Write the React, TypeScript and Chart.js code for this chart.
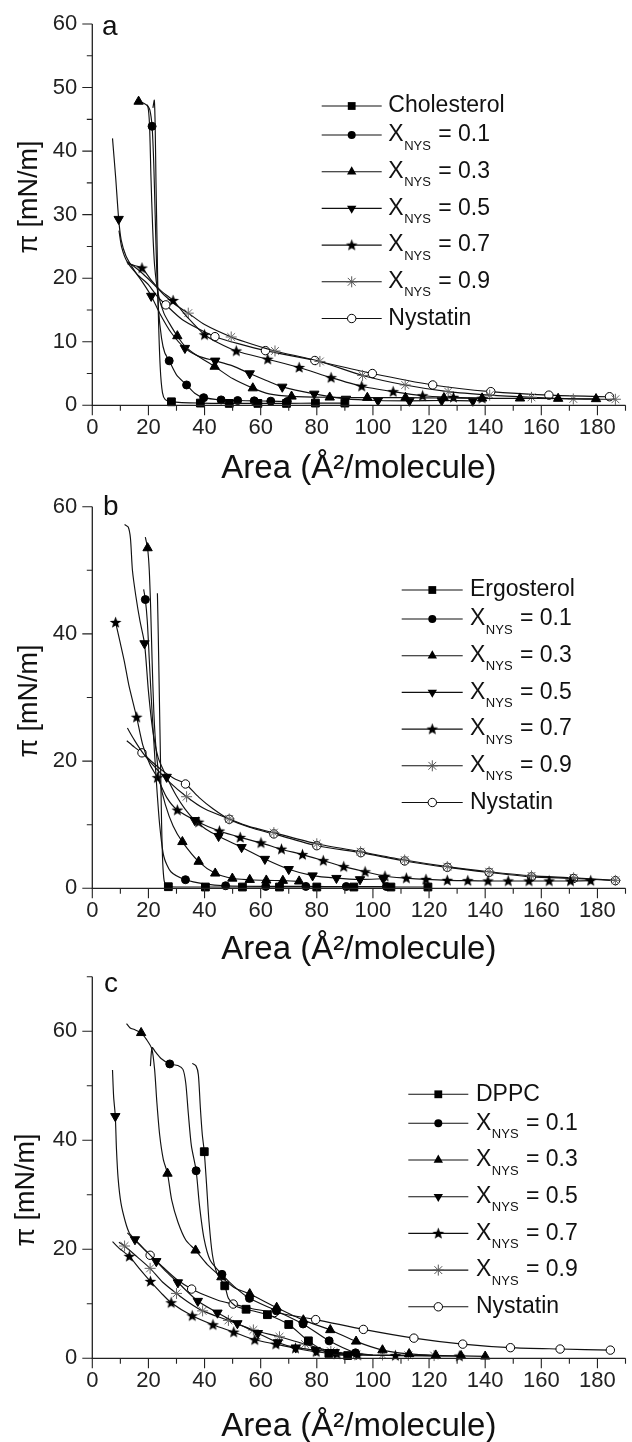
import React, { useEffect, useRef } from 'react';
import { Chart, registerables } from 'chart.js';
Chart.register(...registerables);

type Pt = [number, number, number]; // [area, pressure, 1 = symbol drawn]

// ---------- Panel a : Cholesterol / Nystatin ----------
const aCholesterol: Pt[] = [[21.6,46.8,0],[22.1,48,0],[22.4,44,0],[22.7,35,0],[23.1,25,0],[23.5,15,0],[24.2,6,0],[25,2,0],[26,0.9,0],[28.2,0.55,1],[38.5,0.35,1],[48.8,0.3,1],[59,0.3,1],[69.2,0.3,1],[79.5,0.35,1],[90,0.35,1]];
const aX01: Pt[] = [[19.5,47.3,0],[20.5,46.5,0],[21.3,43.9,1],[21.9,38,0],[22.4,30,0],[22.9,22,0],[23.6,15,0],[24.7,10.5,0],[25.8,8.3,0],[27.4,7.0,1],[30,4.8,0],[33.6,3.2,1],[36.5,1.9,0],[39.7,1.2,1],[45.9,0.85,1],[51.8,0.75,1],[57.7,0.7,1],[63.6,0.65,1],[69.5,0.6,1]];
const aX03: Pt[] = [[16.5,47.8,1],[18.5,47.5,0],[19.8,47.0,0],[20.4,44,0],[20.9,36,0],[21.5,28,0],[22.2,22,0],[23.5,17.5,0],[25.5,14.5,0],[28,12.5,0],[30.3,10.9,1],[33,9.3,0],[37,7.9,0],[43.6,6.1,1],[50,4.2,0],[57.2,2.7,1],[63,1.8,0],[71,1.4,1],[84.6,1.25,1],[98,1.2,1],[111.6,1.2,1],[125.3,1.15,1],[138.9,1.1,1],[152.4,1.1,1],[166,1.05,1],[179.5,1.0,1]];
const aX05: Pt[] = [[7.2,42,0],[8.3,36,0],[9.4,29.3,1],[10.3,26,0],[12,23.5,0],[15,21.2,0],[18,19.3,0],[21,17.2,1],[24,14.5,0],[28,11.5,0],[33,9.0,1],[38,7.7,0],[43.8,7.0,1],[50,6.2,0],[56.1,5.0,1],[62,3.9,0],[67.7,2.9,1],[79.1,1.8,1],[90.4,1.0,1],[101.8,0.75,1],[113,0.7,1],[124.5,0.75,1],[135.6,0.7,1]];
const aX07: Pt[] = [[12.5,22.3,0],[15,22,0],[17.7,21.6,1],[21,19.7,0],[24.5,18,0],[28.8,16.5,1],[34,13.8,0],[40,11.1,1],[45,9.8,0],[51.3,8.55,1],[62.5,7.25,1],[73.7,5.95,1],[85.1,4.35,1],[96,3.0,1],[107.2,2.15,1],[117.7,1.5,1],[128.7,1.25,1],[138.9,1.1,1]];
const aX09: Pt[] = [[12.3,22.6,0],[15,21.8,0],[18,20.7,0],[22,19,0],[26,17.2,0],[30,15.7,0],[34.2,14.5,1],[40,12.7,0],[49.5,10.75,1],[57,9.6,0],[65.1,8.55,1],[81.1,6.9,1],[96.3,4.7,1],[111.5,3.2,1],[126.8,2.15,1],[141.6,1.6,1],[156.5,1.25,1],[171.4,1.0,1],[186.4,0.95,1]];
const aNystatin: Pt[] = [[9.5,27.5,0],[10.5,24.8,0],[12.5,22.5,0],[16,20.6,0],[20,19,0],[23,17.2,0],[26.2,15.8,1],[32,13.5,0],[38,12,0],[43.7,10.8,1],[52,9.7,0],[61.7,8.6,1],[79.3,7.05,1],[99.8,5.0,1],[121.3,3.2,1],[142,2.15,1],[162.7,1.6,1],[184.3,1.35,1]];

// ---------- Panel b : Ergosterol / Nystatin ----------
const bErgosterol: Pt[] = [[23.2,46.4,0],[23.5,40,0],[23.9,30,0],[24.3,20,0],[24.7,10,0],[25.1,4,0],[25.6,1.2,0],[26.3,0.4,0],[27.1,0.25,1],[40.3,0.2,1],[53.5,0.2,1],[66.7,0.2,1],[80,0.2,1],[93.2,0.2,1],[106.4,0.2,1],[119.6,0.2,1]];
const bX01: Pt[] = [[18.3,47,0],[18.9,45.4,1],[19.6,42,0],[20.3,36,0],[21,30,0],[21.8,24,0],[22.8,17,0],[24,10,0],[25.5,5,0],[28,2.6,0],[33.2,1.35,1],[40,0.7,0],[47.5,0.4,1],[61.8,0.3,1],[76.1,0.3,1],[90.5,0.28,1],[104.8,0.28,1]];
const bX03: Pt[] = [[18.9,55.2,0],[19.7,53.5,1],[20.3,50,0],[20.8,44,0],[21.3,36,0],[21.9,28,0],[22.7,22,0],[24,17,0],[26,13.2,0],[28.8,9.8,0],[32.1,7.3,1],[37.9,4.2,1],[43.8,2.35,1],[49.9,1.55,1],[56.1,1.35,1],[62,1.25,1],[67.9,1.2,1],[73.7,1.1,1]];
const bX05: Pt[] = [[11.5,57.2,0],[12.8,56.8,0],[13.6,55,0],[14.3,50,0],[15.5,46,0],[17,42,0],[18.6,38.5,1],[20,31,0],[21.5,25,0],[23.5,20.5,0],[26.5,17.5,1],[30,14.5,0],[33,12.5,0],[36.5,10.7,1],[40.5,9.3,0],[45,8.2,1],[53.2,6.45,1],[61.5,4.6,1],[70,3.0,1],[78.5,2.0,1],[87,1.6,1],[95.4,1.4,1],[103.7,1.5,1]];
const bX07: Pt[] = [[8.3,41.8,1],[10,38.5,0],[11.5,35.5,0],[13,32,0],[15.8,26.9,1],[18,22.5,0],[20.5,19.5,0],[23.2,17.4,1],[26.5,14.3,0],[30.3,12.3,1],[37.9,10.4,1],[45.3,9.0,1],[52.7,8.0,1],[60.1,7.15,1],[67.4,6.15,1],[74.9,5.3,1],[82.3,4.35,1],[89.6,3.4,1],[97.2,2.6,1],[104.3,1.9,1],[111.9,1.6,1],[118.9,1.4,1],[126.5,1.25,1],[133.8,1.2,1],[141,1.15,1],[148.2,1.15,1],[155.6,1.15,1],[162.8,1.15,1],[170.4,1.15,1],[177.6,1.2,1]];
const bX09: Pt[] = [[12.5,25.2,0],[15,23.3,0],[18,21.3,0],[22,19.2,0],[27,16.9,0],[33.6,14.4,1],[40,12.5,0],[48.8,10.9,1],[56,9.7,0],[64.7,8.75,1],[80,7.0,1],[95.6,5.75,1],[111.3,4.45,1],[126.5,3.4,1],[141.4,2.6,1],[156.5,1.95,1],[171.5,1.65,1],[186.4,1.25,1]];
const bNystatin: Pt[] = [[12.3,23.2,0],[15,22.2,0],[17.7,21.3,1],[21,20,0],[25,18.5,0],[29,17.3,0],[33.2,16.4,1],[38,14.3,0],[43,12.5,0],[48.8,10.85,1],[56,9.6,0],[64.7,8.55,1],[80,6.7,1],[95.7,5.6,1],[111.3,4.3,1],[126.5,3.3,1],[141.4,2.5,1],[156.5,1.8,1],[171.5,1.55,1],[186.4,1.2,1]];

// ---------- Panel c : DPPC / Nystatin ----------
const cDPPC: Pt[] = [[35.6,54.1,0],[37,53.6,0],[37.8,52,0],[38.5,46,0],[39.2,41,0],[39.9,37.9,1],[40.7,32,0],[41.6,25,0],[42.8,19,0],[44.5,15.5,0],[47.2,13.3,1],[48.5,11,0],[51,9.6,0],[54.8,9.0,1],[62.4,8.0,1],[70,6.2,1],[77,3.2,1],[84.3,0.9,1],[91,0.5,1]];
const cX01: Pt[] = [[20.7,53.6,0],[21.3,57,0],[22.5,56.2,0],[24.5,55,0],[27.6,54,1],[30.5,53.7,0],[32.3,53,0],[33.3,50.5,0],[34.2,45,0],[35.3,39,0],[37,34.4,1],[38.2,28,0],[39.8,22,0],[42,18,0],[46.2,15.4,1],[50.5,13.2,0],[56,11,1],[65.6,8.7,1],[75.1,6.3,1],[84.4,3.2,1],[93.8,1.0,1],[100,0.6,0]];
const cX03: Pt[] = [[12.2,61.4,0],[13.5,60.6,0],[15,60.3,0],[17.4,59.7,1],[19.3,58.5,0],[21.2,56.8,0],[22.2,53,0],[23,47,0],[24,41,0],[25.3,36.5,0],[26.8,33.9,1],[28.3,29,0],[30.5,25,0],[33.3,21.7,0],[36.8,19.8,1],[41,17.2,0],[46,14.9,1],[50.5,13,0],[56.1,11.8,1],[65.7,9.3,1],[75.2,7.0,1],[84.8,5.2,1],[94,3.1,1],[103.4,1.5,1],[112.9,0.8,1],[122.4,0.55,1],[131.4,0.45,1],[140,0.35,1]];
const cX05: Pt[] = [[7.2,52.9,0],[7.6,48,0],[8.2,44.4,1],[8.6,38.5,0],[9.2,33,0],[10.2,28.5,0],[11.8,25,0],[13.2,23,0],[15.2,21.8,1],[19,19.8,0],[22.8,17.8,1],[26.5,15.8,0],[30.5,13.9,1],[37.6,10.5,1],[44.6,8.35,1],[51.7,6.4,1],[59,4.6,1],[66.1,2.9,1],[72.5,1.95,1],[79.6,1.5,1],[86.4,1.1,1],[93,0.7,0]];
const cX07: Pt[] = [[7.2,21.4,0],[10,20,0],[13.2,18.7,1],[17,16.3,0],[20.7,14.1,1],[24.5,12,0],[28.1,10.2,1],[35.6,7.8,1],[43,6.15,1],[50.4,4.8,1],[57.9,3.4,1],[65.4,2.6,1],[72.4,1.85,1],[79.8,1.2,1],[87.2,0.8,1],[94.6,0.6,1],[108,0.5,1],[130.8,0.4,1]];
const cX09: Pt[] = [[9.5,21.3,0],[11.5,20.6,1],[16,18.6,0],[20.6,16.5,1],[25,14,0],[30,11.9,1],[34.5,10.2,0],[39.3,8.7,1],[48.5,6.95,1],[57.4,5.2,1],[66.7,3.95,1],[75.8,2.6,1],[85,1.3,1],[94.2,0.7,1],[103.4,0.6,1],[112.6,0.55,1],[121.8,0.5,1]];
const cNystatin: Pt[] = [[12.5,23,0],[16.5,21,0],[20.6,18.9,1],[25,16.8,0],[30,14.5,0],[35.4,12.7,1],[40,11.6,0],[45,10.6,0],[50.2,9.95,1],[57,9.1,0],[64.9,8.4,1],[79.6,7.1,1],[96.6,5.3,1],[114.6,3.7,1],[132,2.6,1],[149,1.95,1],[166.7,1.7,1],[184.6,1.5,1]];

// ---------- labels ----------
const xnysValues = ['0.1', '0.3', '0.5', '0.7', '0.9'];
const firstNames = ['Cholesterol', 'Ergosterol', 'DPPC'];
const lastName = 'Nystatin';
const panelLetters = ['a', 'b', 'c'];
const xTickLabels = [0, 20, 40, 60, 80, 100, 120, 140, 160, 180];
const aYTickLabels = [0, 10, 20, 30, 40, 50, 60];
const bYTickLabels = [0, 20, 40, 60];
const cYTickLabels = [0, 20, 40, 60];
const xTitle = 'Area (Å²/molecule)';
const yTitle = 'π [mN/m]';

const markerKinds = ['square', 'circle', 'up', 'down', 'star', 'asterisk', 'open'];
const FONT = "'Liberation Sans', Arial, Helvetica, sans-serif";
const W = 632;

const panels = [
  { series: [aCholesterol, aX01, aX03, aX05, aX07, aX09, aNystatin], yMax: 60, yStep: 5, yLabels: aYTickLabels,
    top: 0, height: 496, chartTop: 24, chartBottom: 405.3,
    legend: { x0: 321.7, xm: 351.7, x1: 381.7, xt: 388.3, y0: 106 },
    letter: { x: 102, y: 35 }, yTitle: { x: 30, y: 197 }, xTitleBase: 478 },
  { series: [bErgosterol, bX01, bX03, bX05, bX07, bX09, bNystatin], yMax: 60, yStep: 10, yLabels: bYTickLabels,
    top: 480, height: 496, chartTop: 26.7, chartBottom: 408.3,
    legend: { x0: 401.7, xm: 432.3, x1: 462.7, xt: 470, y0: 110 },
    letter: { x: 103, y: 35 }, yTitle: { x: 30, y: 221 }, xTitleBase: 479 },
  { series: [cDPPC, cX01, cX03, cX05, cX07, cX09, cNystatin], yMax: 70, yStep: 10, yLabels: cYTickLabels,
    top: 960, height: 482, chartTop: 16.7, chartBottom: 398.3,
    legend: { x0: 408.3, xm: 438.3, x1: 468.3, xt: 476, y0: 134.3 },
    letter: { x: 104, y: 32.3 }, yTitle: { x: 27, y: 230 }, xTitleBase: 476 },
];

let starImg: HTMLCanvasElement | null = null;
function getStar(): HTMLCanvasElement {
  if (starImg) return starImg;
  const c = document.createElement('canvas');
  c.width = 13; c.height = 13;
  const g = c.getContext('2d')!;
  g.fillStyle = '#000';
  g.beginPath();
  for (let i = 0; i < 10; i++) {
    const r = i % 2 === 0 ? 6.2 : 2.6;
    const a = -Math.PI / 2 + (i * Math.PI) / 5;
    const px = 6.5 + r * Math.cos(a);
    const py = 6.8 + r * Math.sin(a);
    if (i === 0) g.moveTo(px, py); else g.lineTo(px, py);
  }
  g.closePath();
  g.fill();
  starImg = c;
  return c;
}

function styleFor(kind: string) {
  switch (kind) {
    case 'square': return { ps: 'rect', r: 5.5, rot: 0, bg: '#000', bc: '#000', bw: 1 };
    case 'circle': return { ps: 'circle', r: 4, rot: 0, bg: '#000', bc: '#000', bw: 1 };
    case 'up': return { ps: 'triangle', r: 5.4, rot: 0, bg: '#000', bc: '#000', bw: 1 };
    case 'down': return { ps: 'triangle', r: 5.4, rot: 180, bg: '#000', bc: '#000', bw: 1 };
    case 'star': return { ps: getStar(), r: 5, rot: 0, bg: '#000', bc: '#000', bw: 1 };
    case 'asterisk': return { ps: 'star', r: 5.5, rot: 0, bg: 'rgba(0,0,0,0)', bc: '#666', bw: 1 };
    default: return { ps: 'circle', r: 4.2, rot: 0, bg: '#fff', bc: '#000', bw: 1 };
  }
}

function drawLegendMarker(ctx: CanvasRenderingContext2D, kind: string, x: number, y: number) {
  ctx.save();
  ctx.fillStyle = '#000';
  ctx.strokeStyle = '#000';
  ctx.lineWidth = 1;
  ctx.beginPath();
  if (kind === 'square') {
    ctx.rect(x - 3.9, y - 3.9, 7.8, 7.8); ctx.fill();
  } else if (kind === 'circle') {
    ctx.arc(x, y, 4, 0, Math.PI * 2); ctx.fill();
  } else if (kind === 'up' || kind === 'down') {
    const s = kind === 'up' ? 1 : -1;
    const r = 5.4;
    for (let i = 0; i < 3; i++) {
      const a = (i * 2 * Math.PI) / 3;
      const px = x + Math.sin(a) * r;
      const py = y - s * Math.cos(a) * r;
      if (i === 0) ctx.moveTo(px, py); else ctx.lineTo(px, py);
    }
    ctx.closePath(); ctx.fill();
  } else if (kind === 'star') {
    const img = getStar();
    ctx.drawImage(img, x - img.width / 2, y - img.height / 2);
  } else if (kind === 'asterisk') {
    ctx.strokeStyle = '#555';
    const r = 5.5;
    for (let i = 0; i < 4; i++) {
      const a = (i * Math.PI) / 4;
      ctx.moveTo(x - Math.cos(a) * r, y - Math.sin(a) * r);
      ctx.lineTo(x + Math.cos(a) * r, y + Math.sin(a) * r);
    }
    ctx.stroke();
  } else {
    ctx.arc(x, y, 4.2, 0, Math.PI * 2);
    ctx.fillStyle = '#fff'; ctx.fill(); ctx.stroke();
  }
  ctx.restore();
}

function Panel({ idx }: { idx: number }) {
  const ref = useRef<HTMLCanvasElement>(null);
  const p = panels[idx];
  useEffect(() => {
    if (!ref.current) return;
    const datasets = p.series.map((pts, si) => {
      const st = styleFor(markerKinds[si]);
      return {
        data: pts.map((q) => ({ x: q[0], y: q[1], m: q[2] })),
        showLine: true,
        borderColor: '#111',
        borderWidth: 1.15,
        tension: 0.25,
        pointStyle: st.ps as any,
        pointRotation: st.rot,
        pointRadius: (c: any) => (c.raw && c.raw.m ? st.r : 0),
        pointHoverRadius: 0,
        pointBackgroundColor: st.bg,
        pointBorderColor: st.bc,
        pointBorderWidth: st.bw,
        clip: false as any,
      };
    });

    const decor = {
      id: 'decor' + idx,
      afterDraw(chart: any) {
        const ctx: CanvasRenderingContext2D = chart.ctx;
        const { left, right, top, bottom } = chart.chartArea;
        const xs = chart.scales.x;
        const ys = chart.scales.y;
        ctx.save();
        // axes
        ctx.strokeStyle = '#222';
        ctx.lineWidth = 1.3;
        ctx.beginPath();
        ctx.moveTo(left, top);
        ctx.lineTo(left, bottom);
        ctx.lineTo(right, bottom);
        ctx.stroke();
        // tick marks
        ctx.lineWidth = 1.1;
        ctx.beginPath();
        xs.ticks.forEach((t: any) => {
          const px = xs.getPixelForValue(t.value);
          const major = xTickLabels.includes(t.value);
          ctx.moveTo(px, bottom);
          ctx.lineTo(px, bottom + (major ? 10 : 5.5));
        });
        ys.ticks.forEach((t: any) => {
          const py = ys.getPixelForValue(t.value);
          const major = p.yLabels.includes(t.value);
          ctx.moveTo(left, py);
          ctx.lineTo(left - (major ? 10 : 5.5), py);
        });
        ctx.stroke();

        // panel letter
        ctx.fillStyle = '#111';
        ctx.textBaseline = 'alphabetic';
        ctx.textAlign = 'left';
        ctx.font = `28px ${FONT}`;
        ctx.fillText(panelLetters[idx], p.letter.x, p.letter.y);

        // axis titles
        ctx.font = `33px ${FONT}`;
        ctx.textAlign = 'center';
        ctx.fillText(xTitle, (left + right) / 2, p.xTitleBase);
        ctx.save();
        ctx.translate(p.yTitle.x, p.yTitle.y);
        ctx.rotate(-Math.PI / 2);
        ctx.font = `27px ${FONT}`;
        ctx.textBaseline = 'middle';
        ctx.fillText(yTitle, 0, 0);
        ctx.restore();

        // legend
        const L = p.legend;
        const names = [firstNames[idx], ...xnysValues, lastName];
        let y = L.y0;
        names.forEach((name, i) => {
          if (i === 1) y += 29; else if (i > 1) y += 36.7;
          ctx.strokeStyle = '#111';
          ctx.lineWidth = 1.1;
          ctx.beginPath();
          ctx.moveTo(L.x0, y);
          ctx.lineTo(L.x1, y);
          ctx.stroke();
          drawLegendMarker(ctx, markerKinds[i], L.xm, y);
          ctx.fillStyle = '#111';
          ctx.textAlign = 'left';
          ctx.textBaseline = 'middle';
          ctx.font = `23px ${FONT}`;
          if (i === 0 || i === names.length - 1) {
            ctx.fillText(name, L.xt, y);
          } else {
            ctx.fillText('X', L.xt, y);
            let cx = L.xt + ctx.measureText('X').width + 0.5;
            ctx.font = `13px ${FONT}`;
            ctx.fillText('NYS', cx, y + 11);
            cx += ctx.measureText('NYS').width;
            ctx.font = `23px ${FONT}`;
            ctx.fillText(' = ' + name, cx + 1, y);
          }
        });
        ctx.restore();
      },
    };

    const chart = new Chart(ref.current, {
      type: 'scatter',
      data: { datasets: datasets as any },
      options: {
        responsive: false,
        animation: false,
        devicePixelRatio: 1,
        layout: { padding: { top: p.chartTop, left: 0, right: 0, bottom: 0 } },
        plugins: { legend: { display: false }, tooltip: { enabled: false } },
        events: [],
        scales: {
          x: {
            type: 'linear',
            min: 0,
            max: 190,
            afterFit: (s: any) => { s.height = p.height - p.chartBottom; },
            grid: { display: false, drawTicks: true, tickLength: 9 },
            border: { display: false },
            ticks: {
              stepSize: 10,
              autoSkip: false,
              maxRotation: 0,
              padding: 0,
              color: '#222',
              font: { family: FONT, size: 22 },
              callback: (v: any) => (xTickLabels.includes(Number(v)) ? String(v) : ''),
            },
          },
          y: {
            type: 'linear',
            min: 0,
            max: p.yMax,
            afterFit: (s: any) => { s.width = 92.3; },
            grid: { display: false, drawTicks: true, tickLength: 15 },
            border: { display: false },
            ticks: {
              stepSize: p.yStep,
              autoSkip: false,
              padding: 0,
              color: '#222',
              font: { family: FONT, size: 22 },
              callback: (v: any) => (p.yLabels.includes(Number(v)) ? String(v) : ''),
            },
          },
        },
      },
      plugins: [decor],
    });
    return () => chart.destroy();
  }, []);
  return (
    <canvas
      ref={ref}
      width={W}
      height={p.height}
      style={{ position: 'absolute', left: 0, top: p.top, width: W, height: p.height }}
    />
  );
}

export default function App() {
  return (
    <div style={{ position: 'absolute', left: 0, top: 0, width: W, height: 1442, background: '#fff' }}>
      <Panel idx={0} />
      <Panel idx={1} />
      <Panel idx={2} />
    </div>
  );
}
